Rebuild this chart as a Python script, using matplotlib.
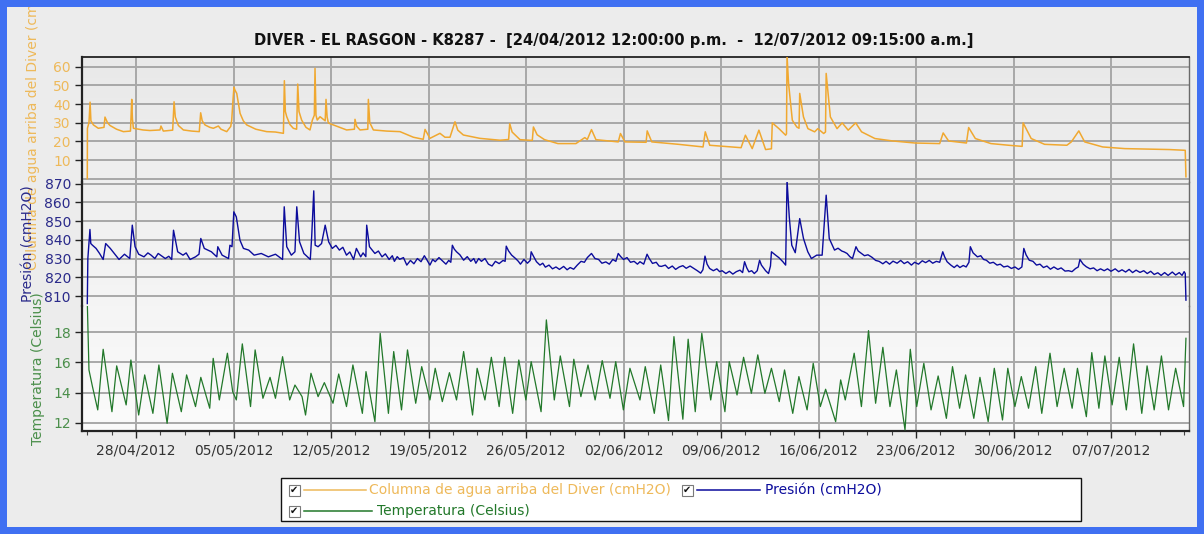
import numpy as np
import matplotlib
matplotlib.use("Agg")
import matplotlib.pyplot as plt
import matplotlib.dates as mdates
from matplotlib.patches import Rectangle
from matplotlib.lines import Line2D
from matplotlib.colors import LinearSegmentedColormap
from datetime import datetime

# ---------------- data (days since 24/04/2012 00:00) ----------------
col_days = [0.50, 0.51, 0.62, 0.70, 0.76, 0.94, 1.29, 1.70, 1.77, 1.95, 2.13, 2.60, 3.09, 3.60, 3.69, 3.74,
            3.81, 4.50, 5.00, 5.72, 5.79, 5.96, 6.63, 6.73, 6.82, 7.04, 7.40, 8.00, 8.54, 8.64, 8.75, 8.95,
            9.30, 9.55, 9.91, 10.10, 10.51, 10.80, 10.87, 10.95, 11.03, 11.10, 11.23, 11.47, 11.70, 11.95,
            12.60, 13.38, 14.00, 14.58, 14.65, 14.72, 14.82, 15.05, 15.29, 15.53, 15.61, 15.70, 15.89, 16.20,
            16.49, 16.66, 16.80, 16.85, 16.92, 17.01, 17.21, 17.58, 17.64, 17.72, 17.81, 18.16, 19.12, 19.68,
            19.72, 19.85, 20.08, 20.64, 20.68, 20.78, 21.04, 22.00, 22.95, 23.91, 24.62, 24.75, 25.10, 25.82,
            26.18, 26.54, 26.90, 27.10, 27.50, 28.69, 30.13, 30.75, 30.83, 31.00, 31.57, 32.45, 32.53, 32.80,
            33.33, 34.29, 35.58, 36.22, 36.40, 36.70, 37.02, 38.62, 38.78, 39.10, 40.62, 40.70, 41.03, 42.95,
            44.71, 44.87, 45.19, 47.44, 47.75, 48.24, 48.72, 49.20, 49.62, 49.68, 50.16, 50.64, 50.70, 50.74,
            50.85, 51.12, 51.44, 51.60, 51.65, 51.92, 52.24, 52.72, 52.95, 53.37, 53.50, 53.55, 53.85, 54.33,
            54.70, 55.13, 55.67, 56.09, 57.05, 58.33, 59.94, 61.70, 61.95, 62.34, 63.62, 63.78, 64.26, 65.38,
            66.66, 67.62, 67.69, 68.27, 69.23, 70.83, 71.15, 71.69, 72.11, 73.40, 75.00, 78.20, 79.33, 79.38]
col_vals = [0, 27, 30, 41, 31, 28.8, 27, 27.5, 33, 30, 28.5, 26.5, 25.2, 25.5, 42.5, 32,
            27, 26.1, 25.8, 26.1, 28.2, 25.5, 26, 41.2, 33, 28.5, 26.1, 25.5, 25.2, 35.3, 31, 28.8,
            27.5, 27, 28.2, 26.5, 25.2, 28, 31.4, 41, 49, 47.5, 45.7, 35, 31, 28.8,
            26.5, 25.2, 25, 24.3, 52.5, 36, 33.2, 29, 27, 26.5, 50.7, 36, 31.4, 27.5,
            26.1, 31.4, 34, 59.1, 34, 31.4, 33.2, 31, 42.5, 33, 29.8, 28.8, 26.1, 26.5,
            31.8, 28, 26.1, 26.5, 42.5, 30, 26.1, 25.5, 25.2, 22.2, 21.1, 26.4, 21.6, 24.3,
            22.2, 22.2, 30.5, 26, 23.4, 21.6, 20.6, 21, 29.5, 25, 20.9, 20.5, 27.7, 23.5,
            20.9, 18.8, 18.8, 22.0, 21, 26.3, 20.9, 19.7, 24.2, 19.7, 19.5, 25.6, 19.7, 18.4,
            17.0, 25.1, 17.9, 16.6, 23.3, 16.1, 26.0, 15.6, 16, 29.9, 26.8, 23.3, 24, 66,
            51.0, 31.3, 27.7, 27, 45.7, 33.1, 26.8, 25.1, 26.8, 24.2, 25, 56.4, 33.1, 26.8,
            29.9, 26.0, 29.9, 25.1, 21.5, 20.2, 19.1, 18.8, 24.5, 20.2, 19.1, 27.4, 21.5, 18.8,
            17.9, 17.3, 29.9, 21.5, 18.4, 17.9, 19.7, 25.6, 19.7, 17.0, 16.1, 15.6, 15.2, 1]

pres_days = [0.50, 0.54, 0.69, 0.75, 0.87, 1.13, 1.38, 1.64, 1.82, 2.15, 2.53, 2.78, 3.17, 3.55, 3.73, 3.93,
             4.19, 4.57, 4.85, 5.08, 5.35, 5.59, 6.10, 6.35, 6.56, 6.69, 6.99, 7.37, 7.60, 7.88, 8.27, 8.52,
             8.65, 8.90, 9.41, 9.80, 9.87, 10.18, 10.64, 10.74, 10.89, 11.02, 11.20, 11.46, 11.71, 12.09,
             12.48, 12.99, 13.50, 14.01, 14.52, 14.64, 14.82, 15.15, 15.41, 15.54, 15.74, 16.05, 16.51, 16.61,
             16.76, 16.86, 17.07, 17.32, 17.58, 17.83, 18.09, 18.35, 18.60, 18.85, 19.11, 19.35, 19.62, 19.82,
             20.13, 20.30, 20.50, 20.56, 20.76, 20.95, 21.15, 21.40, 21.66, 21.90, 22.17, 22.40, 22.55, 22.75,
             22.93, 23.20, 23.44, 23.70, 23.95, 24.20, 24.46, 24.70, 24.84, 25.10, 25.30, 25.48, 25.75, 25.99,
             26.25, 26.45, 26.60, 26.71, 26.85, 27.01, 27.25, 27.52, 27.78, 28.03, 28.25, 28.40, 28.60, 28.80,
             29.05, 29.30, 29.56, 29.80, 30.07, 30.35, 30.50, 30.58, 30.75, 30.97, 31.25, 31.45, 31.60, 31.85,
             32.10, 32.30, 32.37, 32.55, 32.75, 33.00, 33.20, 33.39, 33.65, 33.90, 34.15, 34.40, 34.70, 34.95,
             35.17, 35.42, 35.68, 35.95, 36.19, 36.40, 36.58, 36.70, 36.95, 37.21, 37.45, 37.73, 37.98, 38.23,
             38.45, 38.62, 38.80, 39.00, 39.25, 39.50, 39.76, 40.00, 40.18, 40.45, 40.69, 40.85, 41.08, 41.35,
             41.55, 41.72, 42.00, 42.23, 42.50, 42.74, 43.00, 43.26, 43.50, 43.78, 44.03, 44.30, 44.54, 44.70,
             44.85, 45.00, 45.18, 45.45, 45.70, 45.90, 46.08, 46.35, 46.60, 46.85, 47.10, 47.36, 47.55, 47.69,
             47.85, 48.00, 48.20, 48.39, 48.60, 48.77, 48.90, 49.03, 49.20, 49.41, 49.55, 49.62, 49.92, 50.15,
             50.44, 50.64, 50.74, 50.90, 51.08, 51.33, 51.65, 51.92, 52.23, 52.49, 52.87, 53.26, 53.55, 53.77,
             54.15, 54.40, 54.67, 54.85, 55.05, 55.25, 55.44, 55.69, 55.85, 56.08, 56.30, 56.55, 56.85, 57.10,
             57.35, 57.62, 57.85, 58.10, 58.35, 58.64, 58.90, 59.15, 59.40, 59.67, 59.90, 60.18, 60.45, 60.69,
             60.95, 61.20, 61.46, 61.70, 61.92, 62.05, 62.23, 62.50, 62.74, 62.95, 63.15, 63.39, 63.60, 63.80,
             63.90, 64.10, 64.41, 64.65, 64.85, 65.05, 65.30, 65.55, 65.82, 66.05, 66.30, 66.58, 66.85, 67.10,
             67.36, 67.60, 67.74, 67.90, 68.13, 68.40, 68.65, 68.90, 69.15, 69.40, 69.65, 69.90, 70.18, 70.42,
             70.70, 70.95, 71.20, 71.46, 71.65, 71.77, 72.00, 72.23, 72.50, 72.75, 73.00, 73.25, 73.51, 73.75,
             74.00, 74.30, 74.55, 74.79, 75.05, 75.30, 75.55, 75.80, 76.08, 76.35, 76.60, 76.85, 77.10, 77.36,
             77.60, 77.85, 78.10, 78.40, 78.64, 78.90, 79.10, 79.25, 79.33, 79.38]
pres_vals = [806, 830, 845.5, 838, 837.1, 835.4, 832.7, 829.5, 838, 835.4, 831.8, 829.5, 832.3, 830, 847.8, 836.3,
             832.3, 830.9, 833, 831.8, 830, 832.7, 830, 831.2, 829.5, 845.1, 833.6, 831.8, 833, 829.5, 830.9, 832.3,
             840.7, 835.4, 833.6, 830.9, 836.3, 831.8, 830, 837.1, 836.3, 854.9, 852.2, 839.8, 835.4, 834.5,
             831.8, 832.7, 830.9, 832.3, 829.5, 857.6, 836.3, 831.8, 833.6, 857.6, 838.9, 832.7, 829.5, 841.6,
             866.1, 837.1, 836.3, 838, 847.8, 838.9, 835.4, 837, 834.5, 836, 831.8, 833.5, 829.5, 835.4,
             830.9, 833, 831, 847.8, 836.3, 834.5, 832.7, 834, 830.9, 832.5, 829.5, 831.5, 828.5, 831,
             829.6, 830.5, 826.5, 829, 827.2, 830, 828.3, 831.5, 829.8, 826.5, 829.5, 828.3, 830.5, 828.8,
             827.0, 829, 828, 837.1, 835, 833.6, 832, 829.1, 831, 828.5, 830, 827.5, 830, 828.5,
             830, 827, 826, 828.5, 827.3, 829, 828.5, 836.6, 834, 831.8, 830, 828.5, 827.0, 829.5,
             827.5, 829, 833.6, 831, 828.3, 826.5, 827.5, 825.4, 826.5, 824.5, 825.5, 824.2, 825.8, 824.0,
             825.2, 824.3, 826.5, 828.5, 828.0, 830.5, 831.8, 832.7, 830, 829.5, 827.5, 828.2, 827.0, 829.5,
             828.5, 832.7, 831, 829.5, 830.5, 828, 828.5, 827, 828.3, 827, 832.3, 830, 827.4, 828,
             826, 825.8, 826.5, 824.7, 826, 824.2, 825.5, 826.2, 824.8, 826, 824.8, 823.5, 822.2, 824,
             831.3, 827, 824.7, 823.5, 824.5, 823, 823.5, 822, 823.2, 821.7, 823, 823.8, 822.5, 828.3,
             825, 822.9, 823.5, 822, 823.5, 829.1, 826.5, 825.2, 823.5, 822, 826, 833.6, 831.8, 830.5,
             828.3, 826.5, 871.8, 852.2, 837.1, 833.1, 851.3, 840.7, 833.6, 830, 831.8, 831.8, 863.8, 840.7,
             834.5, 835.5, 834, 833.5, 832.7, 831, 830, 836.3, 834, 832.7, 831.5, 832, 830.6, 829,
             828.5, 827.2, 828.5, 827, 828.6, 827.5, 829, 827.3, 828.3, 826.5, 828, 827, 828.8, 827.8,
             829, 827.5, 828.5, 828, 833.6, 831, 828.3, 826.5, 825.2, 826.5, 825.2, 826.3, 825.5, 828,
             836.3, 833, 830.9, 831.5, 829.5, 829.1, 827.5, 828, 826.5, 827, 825.5, 826, 824.7, 825.5,
             824.2, 825.5, 835.4, 832, 829.1, 828.5, 826.5, 827, 825.2, 826, 824.3, 825.5, 824.2, 825,
             823.3, 823.5, 823, 824.7, 825.5, 829.5, 827, 825.6, 824.5, 825, 823.5, 824.5, 823.5, 824.5,
             823.2, 824.5, 823, 824, 822.8, 824.2, 822.5, 823.8, 822.6, 823.5, 822, 823.2, 821.5, 822.4,
             821, 822.5, 821, 822.8, 821.2, 822.5, 821, 823, 822, 807.8]

temp_days = [0.50, 0.62, 0.87, 1.25, 1.64, 2.27, 2.61, 3.29, 3.63, 4.19, 4.62, 5.21, 5.64, 6.23, 6.61, 7.25,
             7.63, 8.27, 8.65, 9.29, 9.54, 9.98, 10.56, 10.94, 11.20, 11.63, 12.22, 12.55, 13.11, 13.62, 14.01,
             14.52, 15.03, 15.41, 15.92, 16.17, 16.56, 17.07, 17.52, 18.14, 18.55, 19.11, 19.57, 20.25, 20.51,
             21.15, 21.53, 22.12, 22.50, 23.06, 23.49, 24.08, 24.51, 25.10, 25.48, 25.99, 26.50, 27.01, 27.52,
             28.16, 28.49, 29.05, 29.51, 30.07, 30.46, 31.04, 31.48, 31.99, 32.37, 33.08, 33.46, 34.03, 34.46,
             35.12, 35.43, 35.94, 36.45, 36.96, 37.47, 38.03, 38.44, 38.99, 39.46, 40.18, 40.56, 41.21, 41.67,
             42.23, 42.62, 43.26, 43.64, 44.15, 44.62, 45.26, 45.69, 46.28, 46.59, 47.15, 47.62, 48.18, 48.64,
             49.15, 49.62, 50.18, 50.56, 51.15, 51.59, 52.18, 52.62, 53.13, 53.51, 54.23, 54.59, 54.92, 55.56,
             56.08, 56.59, 57.10, 57.62, 58.13, 58.59, 59.21, 59.59, 60.05, 60.56, 61.08, 61.59, 62.18, 62.62,
             63.13, 63.56, 64.15, 64.59, 65.18, 65.62, 66.21, 66.59, 67.10, 67.56, 68.08, 68.59, 69.03, 69.62,
             70.13, 70.64, 71.21, 71.59, 72.23, 72.62, 73.13, 73.56, 74.08, 74.59, 75.10, 75.62, 76.21, 76.59,
             77.10, 77.62, 78.13, 78.64, 79.21, 79.38]
temp_vals = [20.0, 15.5, 14.4, 12.85, 16.87, 12.73, 15.77, 13.18, 16.16, 12.51, 15.17, 12.62, 15.83, 11.96, 15.28, 12.73,
             15.17, 13.07, 15.01, 12.96, 16.27, 13.51, 16.61, 14.06, 13.51, 17.23, 13.07, 16.83, 13.62, 15.01, 13.62,
             16.38, 13.51, 14.50, 13.73, 12.51, 15.28, 13.73, 14.66, 13.29, 15.23, 13.07, 15.83, 12.62, 15.39,
             12.07, 17.93, 12.62, 16.72, 12.85, 16.83, 13.29, 15.72, 13.51, 15.61, 13.40, 15.32, 13.51, 16.72,
             12.51, 15.61, 13.51, 16.34, 13.07, 16.34, 12.62, 16.16, 13.51, 16.05, 12.73, 18.82, 13.51, 16.43,
             13.07, 16.21, 13.73, 15.83, 13.51, 16.12, 13.62, 16.05, 12.85, 15.61, 13.51, 15.72, 12.62, 15.83,
             12.14, 17.71, 12.23, 17.54, 12.73, 17.93, 13.51, 16.05, 12.73, 16.05, 13.84, 16.34, 13.95, 16.50,
             13.95, 15.61, 13.40, 15.50, 12.62, 15.06, 12.85, 15.94, 13.07, 14.22, 12.07, 14.84, 13.51, 16.61,
             13.07, 18.11, 13.29, 17.00, 13.07, 15.50, 11.52, 16.87, 13.07, 15.94, 12.85, 15.10, 12.29, 15.72,
             12.96, 15.17, 12.29, 15.01, 12.07, 15.61, 12.18, 15.61, 13.07, 15.06, 12.96, 15.72, 12.62, 16.61,
             13.07, 15.61, 12.96, 15.61, 12.40, 16.65, 12.96, 16.43, 13.18, 16.34, 12.85, 17.23, 12.62, 15.77,
             12.85, 16.43, 12.85, 15.61, 13.07, 17.6]

tick_labels = ["28/04/2012", "05/05/2012", "12/05/2012", "19/05/2012", "26/05/2012", "02/06/2012",
               "09/06/2012", "16/06/2012", "23/06/2012", "30/06/2012", "07/07/2012"]

col_ticks = [0, 10, 20, 30, 40, 50, 60]
col_ticklabels = ["", "10", "20", "30", "40", "50", "60"]
pres_ticks = [810, 820, 830, 840, 850, 860, 870]
temp_ticks = [12, 14, 16, 18]

title = "DIVER - EL RASGON - K8287 -  [24/04/2012 12:00:00 p.m.  -  12/07/2012 09:15:00 a.m.]"
col_label = "Columna de agua arriba del Diver (cmH2O)"
pres_label = "Presión (cmH2O)"
temp_label = "Temperatura (Celsius)"

# ---------------- styling ----------------
C_COL, C_PRES, C_TEMP = "#f0a830", "#0c0c9c", "#22782a"
C_COL_T, C_PRES_T, C_TEMP_T = "#eeb95a", "#2a2a8a", "#4b8f4b"
GRID = "#a8a8a8"

W, H = 1204, 534
fig = plt.figure(figsize=(W / 100, H / 100), dpi=100, facecolor="#ececec")


def fx(px):
    return px / W


def fy(py):
    return 1 - py / H


L, R, T, B = 82, 1189, 57, 431
ph = (B - T) / 3.0

base = mdates.date2num(datetime(2012, 4, 24))
week0 = mdates.date2num(datetime(2012, 4, 28))
tick_pos = [week0 + 7 * i for i in range(len(tick_labels))]

# gradient background for plot area
bg = fig.add_axes([fx(L), fy(B), fx(R) - fx(L), (B - T) / H], zorder=0)
cmap = LinearSegmentedColormap.from_list("bg", ["#fbfbfb", "#e9e9e9"])
bg.imshow(np.linspace(0, 1, 256)[:, None], aspect="auto", cmap=cmap, origin="lower", extent=(0, 1, 0, 1))
bg.axis("off")

ax_top = fig.add_axes([fx(L), fy(T + ph), fx(R) - fx(L), ph / H], zorder=1)
ax_mid = fig.add_axes([fx(L), fy(T + 2 * ph), fx(R) - fx(L), ph / H], zorder=1, sharex=ax_top)
ax_bot = fig.add_axes([fx(L), fy(B), fx(R) - fx(L), ph / H], zorder=1, sharex=ax_top)

ax_top.plot(base + np.array(col_days), col_vals, color=C_COL, lw=1.1, zorder=3)
ax_mid.plot(base + np.array(pres_days), pres_vals, color=C_PRES, lw=1.0, zorder=3)
ax_bot.plot(base + np.array(temp_days), temp_vals, color=C_TEMP, lw=0.9, zorder=3)

ax_top.set_ylim(-1.61, 65.2)
ax_mid.set_ylim(804.5, 871.0)
ax_bot.set_ylim(11.45, 19.72)
ax_top.set_xlim(base + 0.12, base + 79.6)

ax_top.set_yticks(col_ticks, labels=col_ticklabels)
ax_top.yaxis.get_major_ticks()[0].tick1line.set_visible(False)
ax_mid.set_yticks(pres_ticks, labels=[str(v) for v in pres_ticks])
ax_bot.set_yticks(temp_ticks, labels=[str(v) for v in temp_ticks])

ax_bot.set_xticks(tick_pos, labels=tick_labels)
ax_bot.set_xticks(np.arange(week0 - 3.5, base + 79.6, 1.75), minor=True)

for ax, tc in ((ax_top, C_COL_T), (ax_mid, C_PRES_T), (ax_bot, C_TEMP_T)):
    ax.set_facecolor("none")
    ax.set_axisbelow(True)
    ax.grid(True, which="major", color=GRID, lw=1.4)
    ax.tick_params(axis="y", which="major", direction="out", length=5, width=1, pad=3,
                   labelsize=10, labelcolor=tc, color="#222222")
    for s in ax.spines.values():
        s.set_color("#222222")
    ax.spines["left"].set_linewidth(1.6)
    ax.spines["right"].set_color("#6a6a6a")
    ax.spines["right"].set_linewidth(1.0)

for ax in (ax_top, ax_mid):
    ax.tick_params(axis="x", which="both", bottom=False, labelbottom=False)
    ax.spines["bottom"].set_visible(False)
for ax in (ax_mid, ax_bot):
    ax.spines["top"].set_visible(False)
ax_top.spines["top"].set_linewidth(1.3)
ax_bot.spines["bottom"].set_linewidth(1.6)
ax_bot.tick_params(axis="x", which="major", direction="out", length=5, width=1, pad=4,
                   labelsize=10, labelcolor="#333333", color="#222222")
ax_bot.tick_params(axis="x", which="minor", direction="out", length=3, width=0.8, color="#444444")

# title and axis labels
fig.text(fx(614), fy(40), title, ha="center", va="center", fontsize=10.6, fontweight="bold", color="#111111")
fig.text(fx(33), fy(T + ph / 2), col_label, rotation=90, ha="center", va="center", fontsize=10, color=C_COL_T)
fig.text(fx(28), fy(T + 1.5 * ph), pres_label, rotation=90, ha="center", va="center", fontsize=10, color=C_PRES_T)
fig.text(fx(38), fy(T + 2.5 * ph), temp_label, rotation=90, ha="center", va="center", fontsize=10, color=C_TEMP_T)

# legend box (figure pixel layout)
tf = fig.transFigure
fig.add_artist(Rectangle((fx(281), fy(521)), fx(1081) - fx(281), 43 / H, transform=tf,
                         facecolor="white", edgecolor="#111111", lw=1.0, zorder=5))


def legend_entry(xbox, yrow, xl0, xl1, xt, label, color):
    fig.add_artist(Rectangle((fx(xbox - 5.5), fy(yrow + 5.5)), 11 / W, 11 / H, transform=tf,
                             facecolor="white", edgecolor="#7a7a7a", lw=0.8, zorder=6))
    fig.text(fx(xbox), fy(yrow), "\u2714", ha="center", va="center", fontsize=7, color="#111111", zorder=7)
    fig.add_artist(Line2D([fx(xl0), fx(xl1)], [fy(yrow), fy(yrow)], transform=tf, color=color, lw=1.1, zorder=6))
    fig.text(fx(xt), fy(yrow), label, ha="left", va="center", fontsize=10, color=color, zorder=7)


legend_entry(294, 490, 304, 366, 369, col_label, C_COL_T)
legend_entry(687, 490, 697, 760, 765, pres_label, C_PRES)
legend_entry(294, 511, 304, 372, 377, temp_label, C_TEMP)

# blue outer frame
BLUE = "#4070f2"
for (x0, y0, w, h) in ((0, 0, W, 7), (0, H - 7, W, 7), (0, 0, 7, H), (W - 7, 0, 7, H)):
    fig.add_artist(Rectangle((x0 / W, y0 / H), w / W, h / H, transform=tf, facecolor=BLUE,
                             edgecolor="none", zorder=20))

fig.savefig("out.png", dpi=100, facecolor=fig.get_facecolor())
